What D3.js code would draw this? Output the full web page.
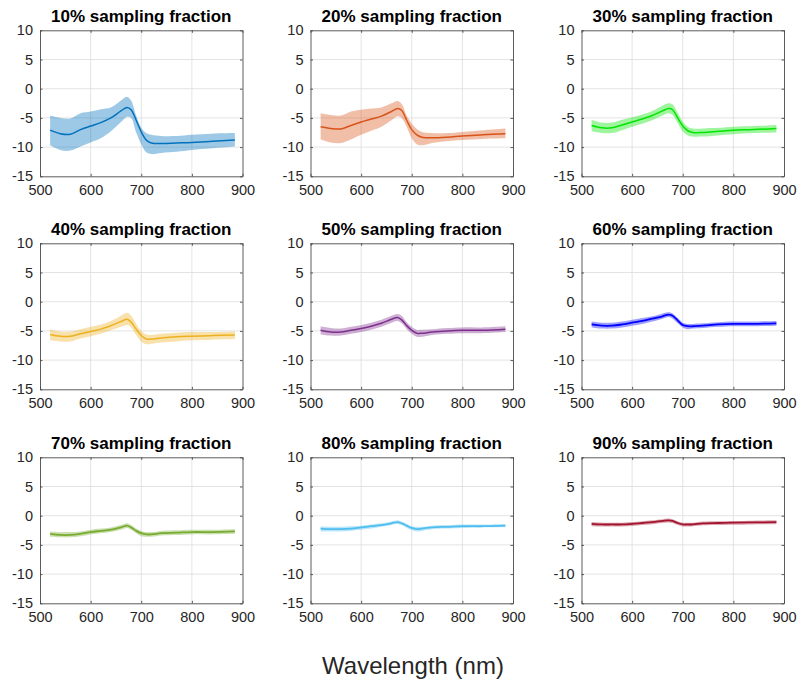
<!DOCTYPE html>
<html>
<head>
<meta charset="utf-8">
<script src="https://cdn.jsdelivr.net/npm/d3@7"></script>
<style>
  html, body { margin: 0; padding: 0; background: #fff; }
  svg { display: block; font-family: "Liberation Sans", Arial, sans-serif; }
</style>
</head>
<body>
<svg id="chart" width="801" height="684"></svg>
<script>
// ---------------- data ----------------
const wavelengths = [520, 540, 560, 580, 600, 620, 640, 660, 672, 680, 690, 700, 710, 720, 740, 770, 800, 840, 885];

const titles = ["10% sampling fraction", "20% sampling fraction", "30% sampling fraction",
                "40% sampling fraction", "50% sampling fraction", "60% sampling fraction",
                "70% sampling fraction", "80% sampling fraction", "90% sampling fraction"];

const colors = ["#0072BD", "#D95319", "#00E600", "#EDB120", "#7E2F8E", "#0000FF", "#77AC30", "#4DBEEE", "#A2142F"];

const mean10 = [-7.1, -7.7, -7.8, -7.0, -6.4, -5.8, -5.0, -3.8, -3.2, -3.6, -5.4, -7.4, -8.8, -9.3, -9.4, -9.3, -9.2, -9.0, -8.8];
const hi10   = [-4.6, -5.0, -5.1, -4.2, -3.9, -3.5, -3.2, -2.0, -1.4, -2.0, -4.6, -6.7, -7.6, -7.9, -8.1, -8.1, -7.9, -7.7, -7.6];
const lo10   = [-9.7, -10.5, -10.6, -9.9, -9.2, -8.5, -7.3, -5.7, -4.8, -5.0, -7.5, -9.5, -10.9, -11.2, -11.0, -10.8, -10.5, -10.2, -9.9];

const mean20 = [-6.5, -6.8, -6.9, -6.3, -5.7, -5.2, -4.7, -3.9, -3.4, -3.7, -5.4, -7.0, -7.9, -8.3, -8.4, -8.3, -8.1, -7.9, -7.7];
const hi20   = [-4.2, -4.5, -4.6, -3.9, -3.6, -3.4, -3.2, -2.5, -2.1, -2.6, -4.6, -6.0, -6.9, -7.4, -7.6, -7.6, -7.4, -7.1, -6.8];
const lo20   = [-8.7, -9.2, -9.3, -8.7, -7.9, -7.2, -6.5, -5.4, -4.7, -5.0, -6.5, -8.5, -9.5, -9.7, -9.3, -9.0, -8.8, -8.6, -8.5];

const mean30 = [-6.3, -6.7, -6.7, -6.2, -5.7, -5.2, -4.6, -3.8, -3.4, -3.6, -5.0, -6.4, -7.2, -7.5, -7.5, -7.3, -7.1, -7.0, -6.8];
const hi30   = [-5.3, -5.8, -5.8, -5.3, -4.9, -4.4, -3.8, -2.9, -2.5, -2.7, -4.1, -5.6, -6.5, -6.8, -6.8, -6.7, -6.5, -6.4, -6.2];
const lo30   = [-7.3, -7.6, -7.6, -7.1, -6.5, -6.0, -5.4, -4.6, -4.2, -4.5, -5.9, -7.3, -8.0, -8.2, -8.2, -8.0, -7.8, -7.6, -7.5];

const mean40 = [-5.6, -5.9, -5.9, -5.5, -5.1, -4.7, -4.1, -3.4, -3.0, -3.5, -4.7, -5.8, -6.4, -6.4, -6.2, -6.0, -5.9, -5.8, -5.7];
const hi40   = [-4.7, -5.1, -5.1, -4.7, -4.3, -3.9, -3.3, -2.4, -1.9, -2.4, -3.8, -5.0, -5.6, -5.7, -5.5, -5.3, -5.2, -5.2, -5.1];
const lo40   = [-6.6, -6.8, -6.8, -6.3, -5.9, -5.5, -4.9, -4.3, -4.0, -4.4, -5.7, -6.8, -7.3, -7.2, -7.0, -6.8, -6.6, -6.5, -6.4];

const mean50 = [-4.9, -5.2, -5.2, -4.9, -4.6, -4.2, -3.7, -3.0, -2.7, -3.1, -4.1, -4.9, -5.4, -5.4, -5.2, -5.0, -4.9, -4.9, -4.7];
const hi50   = [-4.2, -4.5, -4.6, -4.3, -4.0, -3.6, -3.1, -2.4, -2.1, -2.4, -3.5, -4.3, -4.8, -4.8, -4.7, -4.5, -4.4, -4.4, -4.2];
const lo50   = [-5.6, -5.8, -5.8, -5.5, -5.2, -4.8, -4.3, -3.6, -3.3, -3.7, -4.7, -5.5, -6.0, -6.0, -5.7, -5.5, -5.4, -5.4, -5.2];

const mean60 = [-3.9, -4.1, -4.1, -3.9, -3.6, -3.3, -2.9, -2.5, -2.2, -2.4, -3.2, -4.0, -4.2, -4.2, -4.1, -3.9, -3.8, -3.8, -3.7];
const hi60   = [-3.4, -3.6, -3.6, -3.4, -3.1, -2.8, -2.5, -2.0, -1.8, -2.0, -2.8, -3.6, -3.8, -3.8, -3.7, -3.5, -3.4, -3.4, -3.3];
const lo60   = [-4.4, -4.6, -4.6, -4.4, -4.1, -3.8, -3.4, -2.9, -2.6, -2.9, -3.7, -4.4, -4.7, -4.6, -4.5, -4.3, -4.2, -4.2, -4.1];

const mean70 = [-3.1, -3.3, -3.3, -3.1, -2.8, -2.6, -2.4, -2.0, -1.7, -2.0, -2.6, -3.0, -3.2, -3.2, -3.0, -2.9, -2.8, -2.8, -2.7];
const hi70   = [-2.7, -2.8, -2.8, -2.7, -2.4, -2.2, -2.0, -1.6, -1.3, -1.6, -2.2, -2.6, -2.8, -2.8, -2.6, -2.5, -2.4, -2.4, -2.3];
const lo70   = [-3.6, -3.7, -3.7, -3.5, -3.2, -3.0, -2.8, -2.4, -2.1, -2.4, -3.0, -3.5, -3.6, -3.6, -3.4, -3.3, -3.2, -3.2, -3.1];

const mean80 = [-2.2, -2.3, -2.3, -2.2, -2.0, -1.8, -1.6, -1.3, -1.1, -1.3, -1.7, -2.1, -2.3, -2.2, -2.0, -1.9, -1.8, -1.8, -1.7];
const hi80   = [-1.8, -1.9, -1.9, -1.8, -1.7, -1.5, -1.3, -1.0, -0.8, -1.0, -1.4, -1.8, -1.9, -1.9, -1.7, -1.6, -1.5, -1.5, -1.4];
const lo80   = [-2.7, -2.7, -2.7, -2.6, -2.4, -2.2, -1.9, -1.6, -1.4, -1.6, -2.1, -2.5, -2.7, -2.6, -2.3, -2.2, -2.1, -2.0, -2.0];

const mean90 = [-1.4, -1.5, -1.5, -1.5, -1.4, -1.25, -1.1, -0.9, -0.8, -0.9, -1.25, -1.5, -1.5, -1.5, -1.3, -1.25, -1.2, -1.15, -1.1];
const hi90   = [-1.1, -1.2, -1.2, -1.2, -1.1, -0.95, -0.8, -0.6, -0.5, -0.6, -0.95, -1.2, -1.2, -1.2, -1.0, -0.95, -0.9, -0.85, -0.8];
const lo90   = [-1.8, -1.85, -1.85, -1.85, -1.75, -1.6, -1.45, -1.25, -1.15, -1.25, -1.6, -1.85, -1.85, -1.8, -1.65, -1.6, -1.55, -1.5, -1.45];

const xTicks = [500, 600, 700, 800, 900];
const yTicks = [-15, -10, -5, 0, 5, 10];
const xLabel = "Wavelength (nm)";

const means = [mean10, mean20, mean30, mean40, mean50, mean60, mean70, mean80, mean90];
const highs = [hi10, hi20, hi30, hi40, hi50, hi60, hi70, hi80, hi90];
const lows  = [lo10, lo20, lo30, lo40, lo50, lo60, lo70, lo80, lo90];

// ---------------- layout ----------------
const svg = d3.select("#chart");
const colLeft = [40, 310.5, 581.5];
const rowTop = [30.3, 243.3, 457.3];
const pw = 202.5, ph = 146;
const textColor = "#262626";
const fmt = d => String(d); // hyphen-minus like the original

titles.forEach((title, i) => {
  const col = i % 3, row = Math.floor(i / 3);
  const g = svg.append("g").attr("transform", `translate(${colLeft[col]},${rowTop[row]})`);
  const x = d3.scaleLinear().domain([500, 900]).range([0, pw]);
  const y = d3.scaleLinear().domain([-15, 10]).range([ph, 0]);

  // grid
  g.append("g").selectAll("line").data(xTicks.slice(1, -1)).join("line")
    .attr("x1", d => x(d)).attr("x2", d => x(d)).attr("y1", 0).attr("y2", ph)
    .attr("stroke", "#dcdcdc").attr("stroke-width", 0.8);
  g.append("g").selectAll("line").data(yTicks.slice(1, -1)).join("line")
    .attr("y1", d => y(d)).attr("y2", d => y(d)).attr("x1", 0).attr("x2", pw)
    .attr("stroke", "#dcdcdc").attr("stroke-width", 0.8);

  const pts = wavelengths.map((w, k) => ({ w, m: means[i][k], lo: lows[i][k], hi: highs[i][k] }));
  const curve = d3.curveCatmullRom.alpha(0.5);
  const area = d3.area().x(d => x(d.w)).y0(d => y(d.lo)).y1(d => y(d.hi)).curve(curve);
  const line = d3.line().x(d => x(d.w)).y(d => y(d.m)).curve(curve);

  g.append("path").datum(pts).attr("d", area).attr("fill", colors[i]).attr("fill-opacity", 0.38).attr("stroke", "none");
  g.append("path").datum(pts).attr("d", line).attr("fill", "none").attr("stroke", colors[i])
    .attr("stroke-width", i >= 5 ? 1.8 : 1.5);

  // axes (MATLAB style: box with inner ticks)
  const xAxis = d3.axisBottom(x).tickValues(xTicks).tickFormat(fmt).tickSizeInner(-2.5).tickSizeOuter(0).tickPadding(8);
  const yAxis = d3.axisLeft(y).tickValues(yTicks).tickFormat(fmt).tickSizeInner(-2.5).tickSizeOuter(0).tickPadding(7);
  const xa = g.append("g").attr("transform", `translate(0,${ph})`).call(xAxis);
  const ya = g.append("g").call(yAxis);
  g.append("g").call(d3.axisTop(x).tickValues(xTicks).tickSizeInner(-2.5).tickSizeOuter(0).tickFormat(""));
  g.append("g").attr("transform", `translate(${pw},0)`).call(d3.axisRight(y).tickValues(yTicks).tickSizeInner(-2.5).tickSizeOuter(0).tickFormat(""));
  [xa, ya].forEach(a => {
    a.selectAll("text").attr("font-size", 14.5).attr("fill", textColor)
      .attr("font-family", "'Liberation Sans', Arial, sans-serif");
  });
  g.selectAll(".domain").attr("stroke", "#4a4a4a").attr("stroke-width", 0.9);
  g.selectAll(".tick line").attr("stroke", "#4a4a4a").attr("stroke-width", 0.9);

  g.append("text").attr("x", pw / 2).attr("y", -8).attr("text-anchor", "middle")
    .attr("font-size", 17).attr("font-weight", "bold").attr("fill", "#000").text(title);
});

svg.append("text").attr("x", 413).attr("y", 674).attr("text-anchor", "middle")
  .attr("font-size", 24).attr("fill", textColor).text(xLabel);
</script>
</body>
</html>
